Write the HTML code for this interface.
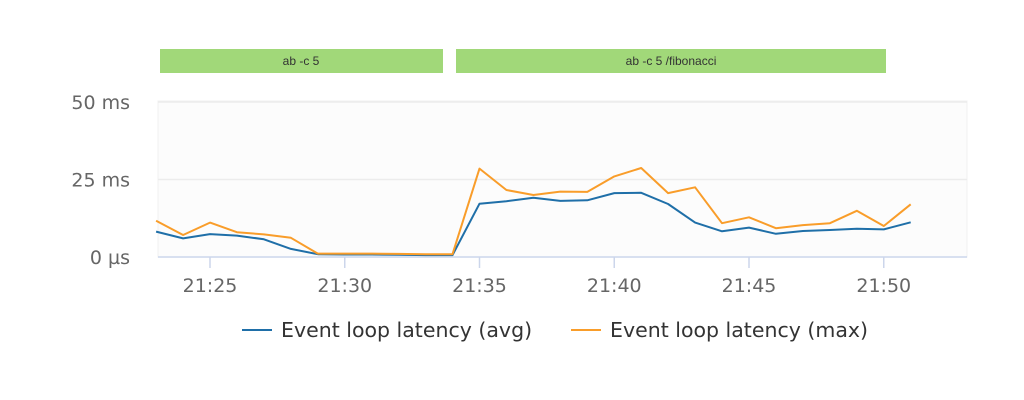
<!DOCTYPE html>
<html><head><meta charset="utf-8"><style>
body{margin:0;background:#fff;width:1024px;height:400px;overflow:hidden;font-family:"Liberation Sans","DejaVu Sans",sans-serif}
svg{display:block}
</style></head><body>
<svg id="chart" width="1024" height="400">
<rect x="160" y="49" width="283" height="24" fill="#a1d879"/>
<text x="301" y="65" font-size="12" fill="#333" text-anchor="middle" font-family="Liberation Sans, sans-serif">ab -c 5</text>
<rect x="456" y="49" width="430" height="24" fill="#a1d879"/>
<text x="671" y="65" font-size="12" fill="#333" text-anchor="middle" font-family="Liberation Sans, sans-serif">ab -c 5 /fibonacci</text>
<rect x="158" y="101" width="809" height="156" fill="#fcfcfc" stroke="#f0f0f0"/>
<g id="grid"></g><g id="axes"></g><g id="series"></g>
<line x1="242" y1="330" x2="272" y2="330" stroke="#1f6fa8" stroke-width="2"/>
<text x="281" y="337" font-size="20.5" fill="#333" font-family="DejaVu Sans, sans-serif">Event loop latency (avg)</text>
<line x1="571" y1="330" x2="601" y2="330" stroke="#f99d2a" stroke-width="2"/>
<text x="610" y="337" font-size="20.5" fill="#333" font-family="DejaVu Sans, sans-serif">Event loop latency (max)</text>
</svg>
<script>
const minutes=[23,24,25,26,27,28,29,30,31,32,33,34,35,36,37,38,39,40,41,42,43,44,45,46,47,48,49,50,51];
const avgValues=[8.2,6.0,7.4,6.9,5.7,2.6,0.9,0.8,0.8,0.7,0.6,0.6,17.2,18.0,19.1,18.1,18.3,20.6,20.7,17.1,11.1,8.3,9.5,7.5,8.4,8.7,9.1,8.9,11.2];
const maxValues=[11.7,7.1,11.1,8.0,7.3,6.2,1.1,1.1,1.1,1.0,0.9,0.9,28.5,21.6,20.0,21.1,21.0,26.0,28.7,20.6,22.5,10.9,12.8,9.3,10.3,10.9,14.9,10.0,17.0];
const yTicks=[0,25,50];
const yTickLabels=["0 µs","25 ms","50 ms"];
const xTicks=[25,30,35,40,45,50];
const xTickLabels=["21:25","21:30","21:35","21:40","21:45","21:50"];
const NS="http://www.w3.org/2000/svg";
function X(m){return 210+(m-25)*26.95;}
function Y(v){return 257-v*3.1;}
function mk(tag,attrs,parent){const e=document.createElementNS(NS,tag);for(const k in attrs)e.setAttribute(k,attrs[k]);parent.appendChild(e);return e;}
const grid=document.getElementById('grid'),axes=document.getElementById('axes'),series=document.getElementById('series');
yTicks.forEach((t,i)=>{
 if(t>0){const g=mk('line',{x1:158,x2:967,y1:Y(t),y2:Y(t),stroke:'#ececec','stroke-width':1.5},grid);
 
 }
 const l=mk('text',{x:130,y:Y(t)+7,'font-size':19,fill:'#666','text-anchor':'end','font-family':'DejaVu Sans, sans-serif'},axes);
 l.textContent=yTickLabels[i];
 
 
});
const ax=mk('line',{x1:158,x2:967,y1:257,y2:257,stroke:'#ccd6eb','stroke-width':1.5},axes);


xTicks.forEach((t,i)=>{
 const tk=mk('line',{x1:X(t),x2:X(t),y1:257,y2:268,stroke:'#ccd6eb','stroke-width':1.5},axes);
 
 
 const l=mk('text',{x:X(t),y:292,'font-size':19,fill:'#666','text-anchor':'middle','font-family':'DejaVu Sans, sans-serif'},axes);
 l.textContent=xTickLabels[i];
 
 
});
function line(vals,color,name){
 const d=vals.map((v,i)=>(i?'L':'M')+X(minutes[i]).toFixed(1)+','+Y(v).toFixed(1)).join('');
 const p=mk('path',{d:d,fill:'none',stroke:color,'stroke-width':2,'stroke-linejoin':'round'},series);
 
 
}
line(avgValues,'#1f6fa8','series-avg-line');
line(maxValues,'#f99d2a','series-max-line');
</script>
</body></html>
